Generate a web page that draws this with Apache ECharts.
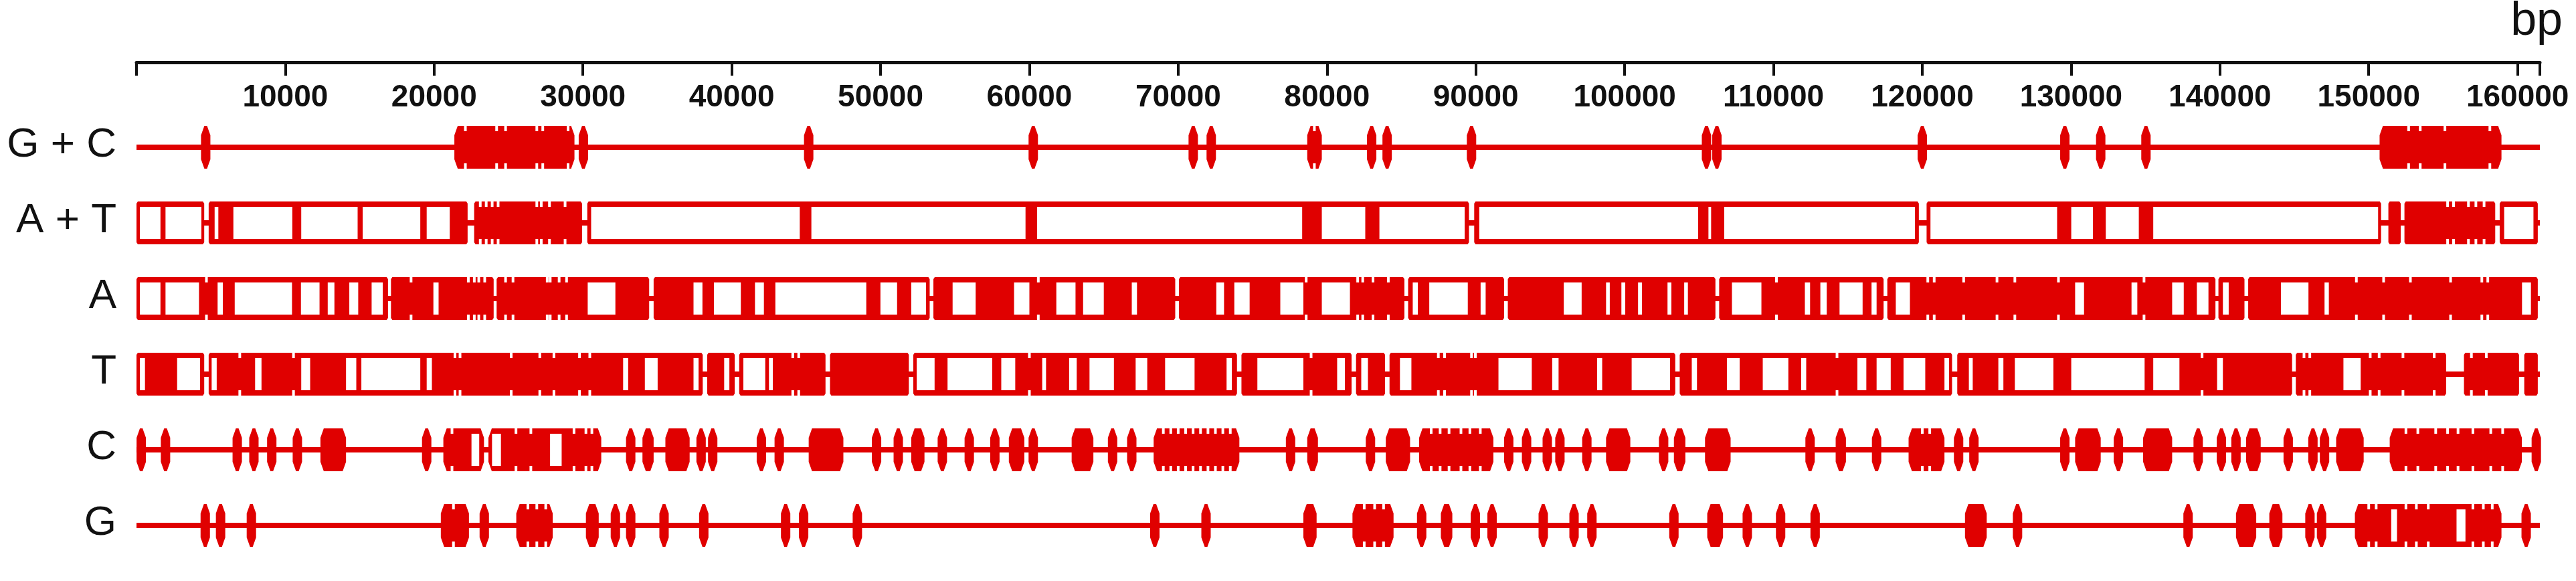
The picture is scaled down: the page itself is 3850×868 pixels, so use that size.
<!DOCTYPE html>
<html>
<head>
<meta charset="utf-8">
<script src="https://cdn.jsdelivr.net/npm/echarts@6/dist/echarts.min.js"></script>
<style>html,body{margin:0;background:#fff}#echart{width:3850px;height:868px}</style>
</head>
<body>
<div id="echart"></div>
<script>
var trackNames = ['G + C', 'A + T', 'A', 'T', 'C', 'G'];
var boxTracks = [false, true, true, true, false, false];
var genomeEnd = 161500;
var tickStep = 10000;

// all positions below are in kb
// spans = red blocks (a single repeat is [p, p]), holes = white openings, notches = small nicks
var gcSpans = [[4.65,4.65],[21.36,29.43],[30.03,30.03],[45.17,45.17],[60.26,60.26],[71.01,71.01],[72.22,72.22],[78.67,79.65],[83.0,83.0],[84.04,84.04],[89.71,89.71],[105.5,105.5],[106.2,106.2],[120.0,120.0],[129.58,129.58],[131.99,131.99],[135.03,135.03],[150.73,158.92]];
var gcHoles = [];
var gcNotches = [22.1,24.2,24.8,26.9,27.3,29.0,79.15,152.68,153.46,155.12,158.14];

var atSpans = [[0,4.55],[4.85,22.25],[22.69,29.94],[30.29,89.54],[89.89,119.77],[120.29,150.83],[151.32,152.15],[152.4,158.5],[158.8,161.36]];
var atHoles = [[0.23,1.61],[1.95,4.36],[5.25,5.5],[6.51,10.47],[11.07,14.86],[15.2,19.07],[19.5,21.05],[30.55,44.57],[45.35,59.74],[60.52,78.33],[79.65,82.57],[83.52,89.25],[90.23,104.94],[105.63,105.8],[106.69,119.51],[120.55,129.06],[130.01,131.47],[132.33,134.55],[135.52,150.63],[159.1,161.07]];
var atNotches = [23.1,23.5,23.9,24.3,26.9,27.2,27.75,28.8,155.3,155.7,156.7,157.2,157.75];

var aSpans = [[0,16.9],[17.1,24.0],[24.2,34.45],[34.75,53.3],[53.55,69.8],[70.05,85.2],[85.45,91.9],[92.15,106.1],[106.35,117.4],[117.65,139.7],[139.9,141.65],[141.9,161.36]];
var aHoles = [[0.23,1.61],[1.95,4.2],[5.45,5.8],[6.6,10.45],[11.05,12.3],[12.85,13.3],[14.3,14.9],[15.8,16.55],[19.95,20.3],[30.32,32.18],[37.43,38.03],[38.8,40.61],[41.56,42.16],[42.93,49.04],[49.99,51.11],[52.06,53.05],[54.84,56.39],[58.97,60.0],[61.81,63.1],[63.61,65.0],[66.88,67.23],[72.56,73.08],[73.77,74.8],[76.86,78.41],[79.65,81.54],[85.76,86.1],[86.87,89.46],[90.32,90.66],[95.91,97.11],[98.75,99.0],[99.78,100.04],[100.9,101.16],[102.88,103.14],[104.0,104.25],[107.21,109.19],[112.11,112.46],[113.15,113.58],[114.44,115.99],[116.59,116.93],[118.22,119.17],[130.27,130.87],[134.06,134.45],[136.79,137.57],[138.45,139.23],[140.2,140.59],[144.1,145.95],[147.03,147.32],[160.3,160.9]];
var aNotches = [4.7,18.45,22.3,22.7,23.0,23.4,24.8,25.3,27.6,27.8,28.4,28.9,60.6,78.6,82.06,82.4,83.09,84.12,110.2,120.37,120.8,122.78,125.02,126.22,129.15,134.9,149.17,151.0,152.8,155.5,157.6,158.0];

var tSpans = [[0,4.55],[4.85,38.05],[38.35,40.2],[40.5,46.3],[46.6,51.9],[52.2,73.95],[74.25,81.65],[81.95,83.9],[84.2,103.4],[103.7,122.0],[122.35,144.85],[145.1,155.2],[156.4,160.1],[160.45,161.36]];
var tHoles = [[0.23,0.57],[2.73,4.27],[5.05,5.39],[7.97,8.4],[11.07,11.67],[14.08,14.77],[15.11,19.07],[19.5,19.85],[32.7,33.04],[34.16,35.02],[37.43,37.77],[39.49,39.84],[40.78,42.25],[42.5,42.76],[52.43,53.63],[54.5,57.5],[58.11,59.05],[60.86,61.12],[62.67,63.18],[64.04,65.68],[67.14,67.92],[69.12,71.1],[73.25,73.6],[75.32,78.41],[80.68,81.2],[82.3,82.75],[84.9,85.67],[91.52,93.76],[95.13,95.56],[98.15,98.49],[100.47,103.05],[104.51,104.86],[106.87,107.73],[109.28,111.0],[111.86,112.2],[115.64,116.24],[116.93,117.88],[118.74,120.2],[121.49,121.8],[123.13,123.39],[125.11,125.45],[126.22,128.81],[130.01,134.94],[135.52,137.28],[139.81,140.2],[148.3,149.46]];
var tNotches = [6.94,10.55,21.4,21.74,25.18,27.1,28.05,29.77,30.46,44.1,44.5,60.0,78.93,87.48,87.9,89.71,89.97,114.27,138.8,145.65,146.04,150.1,150.7,152.3,154.4,156.9,157.9];

var cSpans = [[0.32,0.32],[1.95,1.95],[6.77,6.77],[7.89,7.89],[9.09,9.09],[10.81,10.81],[12.36,14.08],[19.5,19.5],[20.62,23.35],[23.65,31.23],[33.21,33.21],[34.0,34.75],[35.54,37.17],[37.94,37.94],[38.72,38.72],[41.99,41.99],[43.19,43.19],[45.17,47.5],[49.73,49.73],[51.19,51.19],[52.06,52.95],[54.15,54.15],[55.96,55.96],[57.42,57.94],[58.62,59.66],[60.26,60.26],[62.84,64.3],[65.59,65.59],[66.88,66.88],[68.35,74.11],[77.55,77.55],[78.67,79.39],[82.92,82.92],[83.95,85.58],[86.19,91.18],[92.21,92.21],[93.41,93.41],[94.6,95.0],[95.65,95.65],[97.46,97.46],[98.75,100.38],[102.62,102.62],[103.31,104.08],[105.4,107.12],[112.46,112.46],[114.18,114.87],[116.93,116.93],[119.08,121.49],[122.44,122.44],[123.47,123.47],[129.58,129.58],[130.27,131.99],[133.18,133.18],[134.84,136.79],[138.54,138.54],[140.1,140.1],[141.08,141.08],[141.76,142.74],[144.59,144.59],[146.25,146.25],[147.03,147.03],[147.81,149.66],[151.41,160.29],[161.26,161.26]];
var cHoles = [[22.51,23.03],[23.89,24.49],[27.79,28.57]];
var cNotches = [21.2,25.5,26.5,29.4,30.2,30.6,69.0,69.5,70.0,70.5,71.0,71.5,72.0,72.5,73.0,73.5,87.0,87.6,88.2,89.0,89.6,90.3,120.0,120.5,152.5,153.3,154.5,155.3,156.0,157.0,158.2,159.0];

var gSpans = [[4.62,4.62],[5.65,5.65],[7.72,7.72],[20.45,22.34],[23.37,23.37],[25.52,27.97],[30.2,31.06],[32.18,32.18],[33.21,33.21],[35.45,35.45],[38.12,38.12],[43.62,43.62],[44.83,44.83],[48.44,48.44],[68.43,68.43],[71.87,71.87],[78.41,79.3],[81.71,84.47],[86.36,86.36],[87.65,88.42],[89.97,89.97],[91.09,91.09],[94.53,94.53],[96.6,96.6],[97.8,97.8],[103.31,103.31],[105.55,106.61],[108.24,108.24],[110.48,110.48],[112.8,112.8],[122.87,124.33],[126.4,126.4],[137.86,137.86],[141.08,142.44],[143.32,144.2],[146.05,146.05],[146.83,146.83],[149.07,158.92],[160.58,160.58]];
var gHoles = [[151.51,151.9],[155.9,156.5]];
var gNotches = [21.3,26.3,26.9,27.5,82.5,83.2,83.8,150.0,150.5,152.5,153.2,154.0,157.0,157.7,158.3];

var allSpans = [gcSpans, atSpans, aSpans, tSpans, cSpans, gSpans];
var allHoles = [gcHoles, atHoles, aHoles, tHoles, cHoles, gHoles];
var allNotches = [gcNotches, atNotches, aNotches, tNotches, cNotches, gNotches];

var RED = '#e00000';
var HALF = 32, BORDER = 8, MARK_W = 14;

// kind: 0 baseline, 1 span, 2 hole, 3 notch, 4 label
var items = [];
for (var t = 0; t < trackNames.length; t++) {
  items.push([0, genomeEnd, t, 0]);
  items.push([0, 0, t, 4]);
  allSpans[t].forEach(function (s) { items.push([s[0] * 1000, s[1] * 1000, t, 1]); });
  allHoles[t].forEach(function (h) { items.push([h[0] * 1000, h[1] * 1000, t, 2]); });
  allNotches[t].forEach(function (n) { items.push([n * 1000, n * 1000, t, 3]); });
}

function renderItem(params, api) {
  var kind = api.value(3), t = api.value(2);
  var p0 = api.coord([api.value(0), t]);
  var p1 = api.coord([api.value(1), t]);
  var x0 = p0[0], x1 = p1[0], yc = p0[1];
  var top = yc - HALF, bot = yc + HALF;
  if (kind === 0) {
    return { type: 'rect', shape: { x: x0, y: yc - 4, width: x1 - x0, height: 8 }, style: { fill: RED } };
  }
  if (kind === 4) {
    return { type: 'text', style: { text: trackNames[t], x: params.coordSys.x - 30, y: yc - 3,
      align: 'right', verticalAlign: 'middle', fill: '#111',
      font: '62px "Liberation Sans", Arial, sans-serif' } };
  }
  if (kind === 1) {
    if (x1 - x0 < MARK_W) { var m = (x0 + x1) / 2; x0 = m - MARK_W / 2; x1 = m + MARK_W / 2; }
    var cx = boxTracks[t] ? 2 : 5, cy = boxTracks[t] ? 3 : 14;
    return { type: 'polygon', shape: { points: [[x0 + cx, top], [x1 - cx, top], [x1, top + cy], [x1, bot - cy],
      [x1 - cx, bot], [x0 + cx, bot], [x0, bot - cy], [x0, top + cy]] }, style: { fill: RED } };
  }
  if (kind === 2) {
    return { type: 'rect', shape: { x: x0, y: top + BORDER, width: Math.max(x1 - x0, 4), height: 2 * (HALF - BORDER) },
      style: { fill: '#fff' } };
  }
  return { type: 'group', children: [
    { type: 'rect', shape: { x: x0 - 2, y: top - 1, width: 4, height: 9 }, style: { fill: '#fff' } },
    { type: 'rect', shape: { x: x0 - 2, y: bot - 8, width: 4, height: 9 }, style: { fill: '#fff' } }
  ] };
}

var myChart = echarts.init(document.getElementById('echart'));

option = {
  backgroundColor: '#fff',
  animation: false,
  grid: { left: 204, right: 54, top: 93, bottom: 40.5 },
  graphic: [{ type: 'text', right: 20, top: -2,
    style: { text: 'bp', fill: '#111', font: '70px "Liberation Sans", Arial, sans-serif' } }],
  xAxis: {
    type: 'value', position: 'top', min: 0, max: genomeEnd, interval: tickStep,
    splitLine: { show: false },
    axisLine: { onZero: false, lineStyle: { color: '#111', width: 5 } },
    axisTick: { inside: true, length: 20, lineStyle: { color: '#111', width: 4 } },
    axisLabel: {
      inside: true, margin: 30, color: '#111', fontSize: 46, fontWeight: 'bold',
      fontFamily: '"Liberation Sans Narrow", "Liberation Sans", Arial, sans-serif',
      formatter: function (v) { return (v > 0 && v % tickStep === 0) ? String(v) : ''; }
    }
  },
  yAxis: { type: 'value', show: false, inverse: true, min: -1.124, max: 5.376 },
  series: [{
    type: 'custom', renderItem: renderItem, clip: false,
    encode: { x: [0, 1], y: 2 },
    data: items
  }]
};

myChart.setOption(option);
</script>
</body>
</html>
